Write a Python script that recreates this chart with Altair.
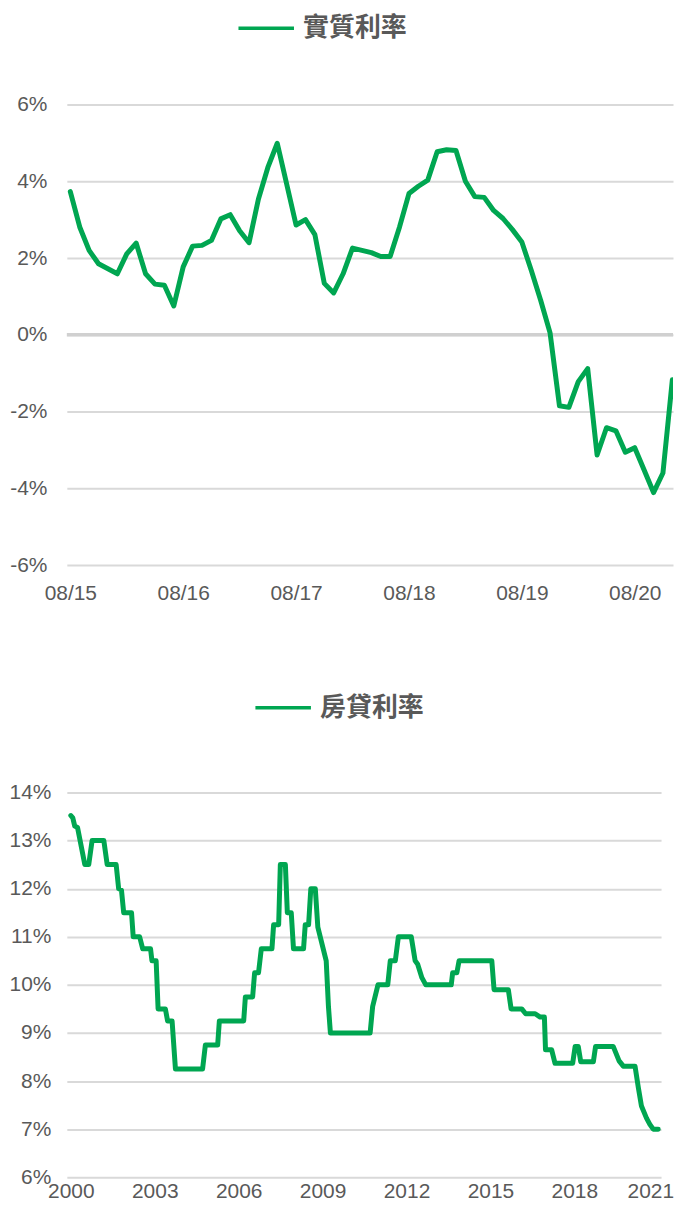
import altair as alt
import pandas as pd

# ---------------- data ----------------
real_rate = [3.73, 2.81, 2.2, 1.85, 1.72, 1.59, 2.11, 2.39, 1.59, 1.32, 1.29, 0.75,
             1.77, 2.31, 2.33, 2.46, 3.02, 3.13, 2.71, 2.4, 3.54, 4.36, 4.99, 3.93,
             2.86, 3.0, 2.61, 1.34, 1.09, 1.59, 2.26, 2.2, 2.14, 2.04, 2.04, 2.81,
             3.68, 3.87, 4.03, 4.77, 4.82, 4.8, 4.0, 3.6, 3.58, 3.24, 3.03, 2.74,
             2.42, 1.68, 0.9, 0.05, -1.85, -1.89, -1.22, -0.88, -3.13, -2.42, -2.5,
             -3.06, -2.94, -3.52, -4.11, -3.6, -1.17]
month_idx = list(range(len(real_rate)))
top_tick_vals = [0, 12, 24, 36, 48, 60]
top_tick_labels = ["08/15", "08/16", "08/17", "08/18", "08/19", "08/20"]
top_y_ticks = [-6, -4, -2, 0, 2, 4, 6]

mort_t = [2000.0, 2000.07, 2000.14, 2000.24, 2000.5, 2000.64, 2000.76, 2001.18, 2001.3,
          2001.62, 2001.71, 2001.81, 2001.89, 2002.17, 2002.23, 2002.46, 2002.57, 2002.85,
          2002.9, 2003.05, 2003.12, 2003.38, 2003.46, 2003.62, 2003.74, 2004.71, 2004.81,
          2005.25, 2005.31, 2006.18, 2006.24, 2006.5, 2006.57, 2006.71, 2006.81, 2007.19,
          2007.25, 2007.43, 2007.49, 2007.67, 2007.74, 2007.88, 2007.96, 2008.32, 2008.38,
          2008.5, 2008.58, 2008.74, 2008.83, 2009.13, 2009.21, 2009.28, 2010.7, 2010.79,
          2010.98, 2011.33, 2011.42, 2011.6, 2011.71, 2012.17, 2012.31, 2012.4, 2012.55,
          2012.69, 2013.6, 2013.65, 2013.8, 2013.88, 2015.05, 2015.13, 2015.64, 2015.74,
          2016.12, 2016.26, 2016.6, 2016.78, 2016.93, 2016.97, 2017.19, 2017.31, 2017.94,
          2018.03, 2018.14, 2018.23, 2018.68, 2018.76, 2019.39, 2019.6, 2019.75, 2020.17,
          2020.29, 2020.4, 2020.58, 2020.7, 2020.82, 2021.0]
mort_v = [13.52, 13.47, 13.3, 13.27, 12.5, 12.5, 13.0, 13.0, 12.5,
          12.5, 12.0, 11.97, 11.5, 11.5, 11.0, 11.0, 10.75, 10.75,
          10.5, 10.5, 9.5, 9.5, 9.25, 9.25, 8.25, 8.25, 8.75,
          8.75, 9.25, 9.25, 9.75, 9.75, 10.25, 10.25, 10.75, 10.75,
          11.25, 11.25, 12.5, 12.5, 11.5, 11.5, 10.75, 10.75, 11.25,
          11.25, 12.0, 12.0, 11.2, 10.5, 9.55, 9.0, 9.0, 9.55,
          10.0, 10.0, 10.5, 10.5, 11.0, 11.0, 10.5, 10.43, 10.15,
          10.0, 10.0, 10.25, 10.25, 10.5, 10.5, 9.9, 9.9, 9.5,
          9.5, 9.4, 9.4, 9.33, 9.33, 8.65, 8.65, 8.37, 8.37,
          8.72, 8.72, 8.4, 8.4, 8.72, 8.72, 8.42, 8.31, 8.31,
          7.86, 7.48, 7.23, 7.1, 7.0, 7.0]
bot_tick_vals = [2000, 2003, 2006, 2009, 2012, 2015, 2018, 2021]
bot_y_ticks = [6, 7, 8, 9, 10, 11, 12, 13, 14]

# ---------------- style ----------------
GREEN = "#00A651"
TXT = "#595959"
GRID = "#d9d9d9"
FONT = "Liberation Sans"
CJK = "Noto Sans CJK TC"
LBL = 21

top_df = pd.DataFrame({"m": month_idx, "v": real_rate, "s": "實質利率"})
bot_df = pd.DataFrame({"t": mort_t, "v": mort_v, "s": "房貸利率"})

lbl_js = "[" + ",".join("'%s'" % s for s in top_tick_labels) + "]"


def legend(x, y):
    return alt.Legend(orient="none", legendX=x, legendY=y, title=None,
                      symbolType="stroke", symbolStrokeWidth=3.5, symbolSize=3100,
                      labelFontSize=26, labelFont=CJK, labelFontWeight="bold",
                      labelColor=TXT, labelOffset=7, padding=0)


top_line = alt.Chart(top_df).mark_line(strokeWidth=5, strokeJoin="round", strokeCap="round", clip=True).encode(
    x=alt.X("m:Q", scale=alt.Scale(domain=[-0.37, 64.07], nice=False, zero=False),
            axis=alt.Axis(values=top_tick_vals, labelExpr=lbl_js + "[round(datum.value/12)]",
                          title=None, grid=False, domain=False, ticks=False, labelFlush=False,
                          labelFontSize=LBL, labelFont=FONT, labelColor=TXT, labelPadding=17)),
    y=alt.Y("v:Q", scale=alt.Scale(domain=[-6, 6], nice=False),
            axis=alt.Axis(values=top_y_ticks, labelExpr="datum.value + '%'", title=None,
                          domain=False, ticks=False, grid=True, gridColor=GRID, gridWidth=2,
                          labelFontSize=LBL, labelFont=FONT, labelColor=TXT, labelPadding=20)),
    color=alt.Color("s:N", scale=alt.Scale(range=[GREEN]), legend=legend(170, -106.5)),
)
zero_rule = alt.Chart(pd.DataFrame({"y": [0]})).mark_rule(color="#d0d0d0", strokeWidth=3.5).encode(y="y:Q")
top = alt.layer(zero_rule, top_line).properties(width=608, height=462)

bot_line = alt.Chart(bot_df).mark_line(strokeWidth=5, strokeJoin="round", strokeCap="round").encode(
    x=alt.X("t:Q", scale=alt.Scale(domain=[1999.857, 2021.1], nice=False, zero=False),
            axis=alt.Axis(values=bot_tick_vals, format="d", title=None, grid=False,
                          domain=False, ticks=False, labelFlush=False, labelFontSize=LBL,
                          labelFont=FONT, labelColor=TXT, labelPadding=3,
                          labelOffset={"condition": {"test": "datum.value == 2021", "value": -8},
                                       "value": 0})),
    y=alt.Y("v:Q", scale=alt.Scale(domain=[6, 14], nice=False, zero=False),
            axis=alt.Axis(values=bot_y_ticks, labelExpr="datum.value + '%'", title=None,
                          domain=False, ticks=False, grid=True, gridColor=GRID, gridWidth=2,
                          labelFontSize=LBL, labelFont=FONT, labelColor=TXT, labelPadding=16)),
    color=alt.Color("s:N", scale=alt.Scale(range=[GREEN]), legend=legend(187, -115)),
)
bot = bot_line.properties(width=596, height=386)

chart = alt.vconcat(top, bot, spacing=75).resolve_scale(color="independent").resolve_legend(color="independent").properties(
    padding={"left": 0, "top": -12, "right": 0, "bottom": -2}
).configure_view(stroke=None)

chart.save("out.html", embed_options={"renderer": "svg", "actions": False})
